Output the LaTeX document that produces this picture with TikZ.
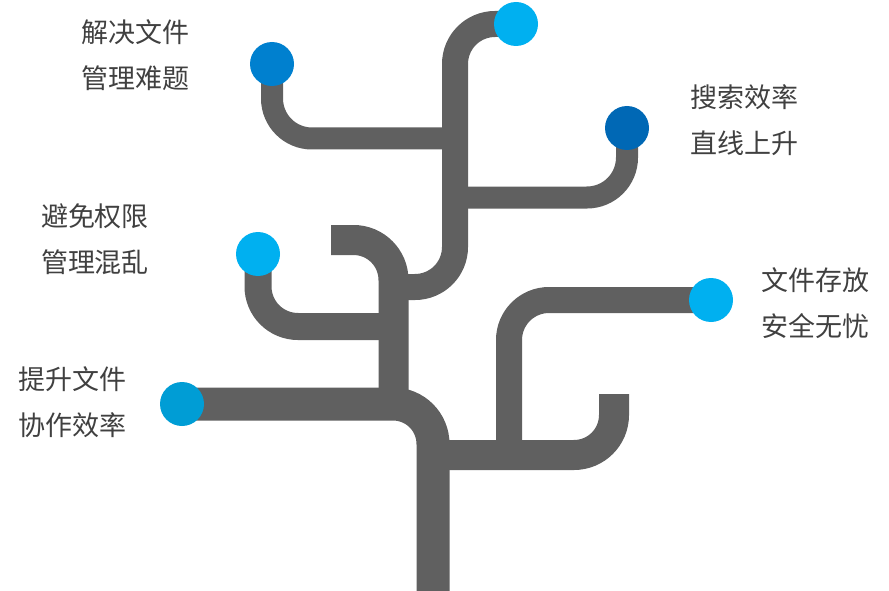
\documentclass[tikz,border=0pt]{standalone}
\usepackage{fontspec}
\setmainfont{Noto Sans CJK SC}
\usepackage{tikz}
\usetikzlibrary{positioning}
\definecolor{BranchGray}{HTML}{606060}
\definecolor{TextGray}{HTML}{404040}
\definecolor{SkyBlue}{HTML}{00B0F0}
\definecolor{MidBlue}{HTML}{0080CF}
\definecolor{DeepBlue}{HTML}{0068B5}
\definecolor{SeaBlue}{HTML}{009DD5}

\begin{document}
\begin{tikzpicture}[x=1pt, y=-1pt,
    branch/.style={draw=BranchGray, line width=#1, rounded corners=40pt},
    dot/.style={circle, fill=#1, inner sep=0pt, minimum size=44pt},
    tagtext/.style={text=TextGray, align=left, font=\fontsize{27}{46}\selectfont}]
    \useasboundingbox (0,0) rectangle (889,591);

    % ends of the branches
    \coordinate (pTop) at (516,24);
    \coordinate (pSolve) at (272,64);
    \coordinate (pSearch) at (627,128);
    \coordinate (pAvoid) at (258,254);
    \coordinate (pStore) at (711,300);
    \coordinate (pLift) at (182,404);

    % trunk and branches
    \draw[branch=33] (pLift) -| (433,591);
    \draw[branch=30] (433,455) -| (614,394);
    \draw[branch=26] (509,455) |- (pStore);
    \draw[branch=30] (331,240) -| (393.5,404);
    \draw[branch=27] (pAvoid) |- (393,326.5);
    \draw[branch=26] (pTop) -| (455,287) -- (393,287);
    \draw[branch=22] (pSolve) |- (455,138.5);
    \draw[branch=22] (pSearch) |- (455,197.5);

    % dots
    \node[dot=SkyBlue] (dTop) at (pTop) {};
    \node[dot=MidBlue] (dSolve) at (pSolve) {};
    \node[dot=DeepBlue] (dSearch) at (pSearch) {};
    \node[dot=SkyBlue] (dAvoid) at (pAvoid) {};
    \node[dot=SkyBlue] (dStore) at (pStore) {};
    \node[dot=SeaBlue] (dLift) at (pLift) {};

    % captions
    \node[tagtext] (tSolve) at (135,55) {解决文件\\管理难题};
    \node[tagtext] (tSearch) at (744,120) {搜索效率\\直线上升};
    \node[tagtext] (tAvoid) at (95,239) {避免权限\\管理混乱};
    \node[tagtext] (tStore) at (815,303) {文件存放\\安全无忧};
    \node[tagtext] (tLift) at (73,402) {提升文件\\协作效率};
\end{tikzpicture}
\end{document}
